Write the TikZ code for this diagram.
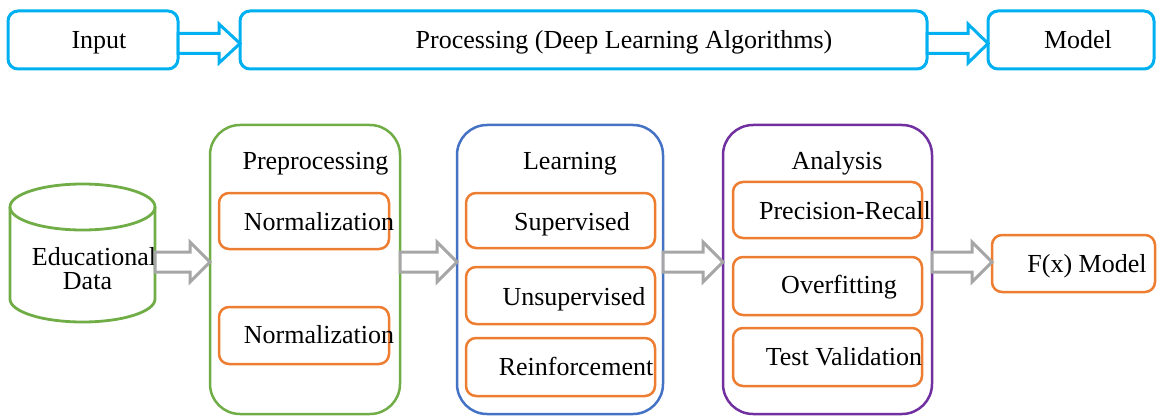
\documentclass[tikz,border=0pt]{standalone}
\usepackage{fontspec}
\setmainfont{Liberation Serif}
\usetikzlibrary{calc}
\definecolor{cyanB}{RGB}{0,176,240}
\definecolor{greenB}{RGB}{112,173,71}
\definecolor{blueB}{RGB}{68,114,196}
\definecolor{purpleB}{RGB}{112,48,160}
\definecolor{orangeB}{RGB}{237,125,49}
\definecolor{grayA}{RGB}{166,166,166}
% #1 style, #2 from node, #3 to node, #4 y centre, #5 shaft half, #6 head half, #7 head length
\newcommand\blockarrow[7]{%
  \draw[#1] let \p1=(#2.east), \p2=(#3.west) in
    (\x1,{#4+#5}) -- ({\x2-#7pt},{#4+#5}) -- ({\x2-#7pt},{#4+#6}) -- (\x2,#4)
    -- ({\x2-#7pt},{#4-#6}) -- ({\x2-#7pt},{#4-#5}) -- (\x1,{#4-#5}) -- cycle;}
\tikzset{
  every node/.style={font=\fontsize{26}{28}\selectfont},
  topbox/.style={draw=cyanB, line width=3pt, rounded corners=10pt, inner sep=0pt, outer sep=0pt},
  bigbox/.style={line width=2.5pt, rounded corners=30pt, inner sep=0pt, outer sep=0pt, minimum height=289pt},
  subbox/.style={draw=orangeB, line width=2.5pt, rounded corners=10pt, inner sep=0pt, outer sep=0pt},
  txt/.style={anchor=base, inner sep=0pt},
  cyanarrow/.style={draw=cyanB, line width=3pt, fill=white, line join=miter},
  grayarrow/.style={draw=grayA, line width=3pt, fill=white, line join=miter},
  cyl/.style={draw=greenB, line width=2.8pt}
}
\begin{document}
\begin{tikzpicture}[x=1pt,y=1pt]
\useasboundingbox (0,0) rectangle (1157,-417);
% top row
\node[topbox, minimum width=170pt, minimum height=58pt] (input) at (93,-40) {};
\node[topbox, minimum width=687pt, minimum height=58pt] (proc) at (583.5,-40) {};
\node[topbox, minimum width=166pt, minimum height=58pt] (model) at (1071,-40) {};
\node[txt] (tinput) at (99,-49) {Input};
\node[txt] (tproc) at (624,-49) {Processing (Deep Learning Algorithms)};
\node[txt] (tmodel) at (1078,-49) {Model};
% cylinder
\node[inner sep=0pt, outer sep=0pt, minimum width=145pt, minimum height=139pt] (edu) at (82.5,-252.5) {};
\draw[cyl] (82.5,-207) ellipse [x radius=72.5, y radius=23];
\draw[cyl] (10,-207) -- (10,-299) arc[start angle=180, end angle=360, x radius=72.5, y radius=23] -- (155,-207);
\node[txt] (tedu1) at (94,-265) {Educational};
\node[txt] (tedu2) at (87.5,-289) {Data};
% big boxes
\node[bigbox, draw=greenB, minimum width=190pt] (pre) at (305,-269.5) {};
\node[bigbox, draw=blueB, minimum width=206pt] (learn) at (560,-269.5) {};
\node[bigbox, draw=purpleB, minimum width=209pt] (anal) at (827.5,-269.5) {};
\node[txt] (tpre) at (315.5,-169) {Preprocessing};
\node[txt] (tlearn) at (570,-170) {Learning};
\node[txt] (tanal) at (837,-170) {Analysis};
% sub boxes
\node[subbox, minimum width=170pt, minimum height=56pt] (n1) at (304,-221) {};
\node[subbox, minimum width=170pt, minimum height=57pt] (n2) at (304,-335.5) {};
\node[subbox, minimum width=189pt, minimum height=55pt] (sup) at (560.5,-220.5) {};
\node[subbox, minimum width=189pt, minimum height=57pt] (unsup) at (560.5,-295.5) {};
\node[subbox, minimum width=189pt, minimum height=58pt] (reinf) at (560.5,-367) {};
\node[subbox, minimum width=189pt, minimum height=56pt] (prec) at (827.5,-210) {};
\node[subbox, minimum width=189pt, minimum height=58pt] (over) at (827.5,-286) {};
\node[subbox, minimum width=189pt, minimum height=58pt] (test) at (827.5,-357) {};
\node[subbox, minimum width=163pt, minimum height=57pt] (fx) at (1073.5,-263.5) {};
\node[txt] (tn1) at (319,-230) {Normalization};
\node[txt] (tn2) at (319,-343) {Normalization};
\node[txt] (tsup) at (572,-230) {Supervised};
\node[txt] (tunsup) at (574,-305) {Unsupervised};
\node[txt] (treinf) at (576,-375) {Reinforcement};
\node[txt] (tprec) at (845,-219) {Precision-Recall};
\node[txt] (tover) at (839,-293) {Overfitting};
\node[txt] (ttest) at (844,-365) {Test Validation};
\node[txt] (tfx) at (1087,-272) {F(x) Model};
% arrows
\blockarrow{cyanarrow}{input}{proc}{-43.5}{10}{19.5}{21}
\blockarrow{cyanarrow}{proc}{model}{-43.5}{10}{19.5}{20}
\blockarrow{grayarrow}{edu}{pre}{-262}{10}{20}{20}
\blockarrow{grayarrow}{pre}{learn}{-262}{10}{20}{20}
\blockarrow{grayarrow}{learn}{anal}{-262}{10}{20}{20}
\blockarrow{grayarrow}{anal}{fx}{-262}{10}{20}{20}
\end{tikzpicture}
\end{document}
